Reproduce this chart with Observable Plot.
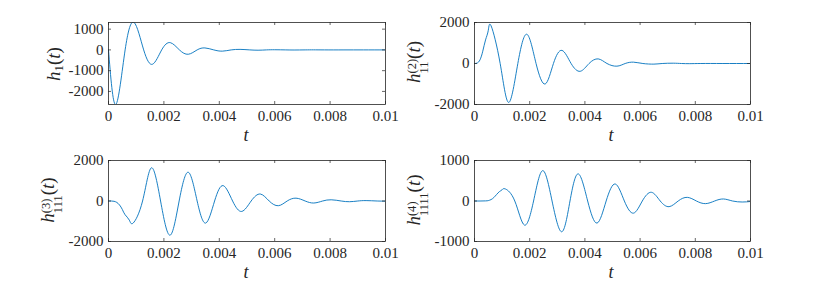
<!DOCTYPE html>
<html><head><meta charset="utf-8">
<script src="https://cdn.jsdelivr.net/npm/d3@7"></script>
<script src="https://cdn.jsdelivr.net/npm/@observablehq/plot@0.6"></script>
<style>
body{margin:0;background:#fff;}
#wrap{position:relative;width:830px;height:291px;overflow:hidden;font-family:"Liberation Serif","Times New Roman",serif;color:#262626;}
.panel{position:absolute;}
.ylab{position:absolute;white-space:nowrap;font-size:19px;line-height:1;transform:translate(-50%,-50%) rotate(-90deg);}
.xlab{position:absolute;font-style:italic;font-size:18px;line-height:1;transform:translate(-50%,-50%);}
.sb{font-size:0.68em;vertical-align:-0.3em;}
.ss{display:inline-block;font-size:0.66em;line-height:0.95;vertical-align:-0.6em;text-align:left;}
.ss span{display:block;}
</style></head><body><div id="wrap"></div>
<script>
// tick values
const xTicks = [0, 0.002, 0.004, 0.006, 0.008, 0.01];
const yTicks1 = [-2000, -1000, 0, 1000];
const yTicks2 = [-2000, 0, 2000];
const yTicks3 = [-2000, 0, 2000];
const yTicks4 = [-1000, 0, 1000];

// h1(t)
const h1T = [0, 0.000264, 0.0006, 0.000926, 0.00127, 0.00159, 0.00192, 0.00223, 0.00256, 0.00288, 0.0032, 0.00348, 0.0038, 0.00411, 0.00443, 0.00475, 0.0051, 0.0054, 0.0057, 0.0060, 0.0064, 0.0067, 0.0071, 0.0074, 0.0078, 0.0085, 0.0092, 0.01];
const h1V = [0, -2630, 0, 1320, 0, -690, 0, 350, 0, -210, 0, 95, 0, -60, 0, 25, 0, -15, 0, 8, 0, -5, 0, 3, 0, 0, 0, 0];

// h11^(2)(t)
const h2T = [0, 0.0001, 0.0002, 0.0003, 0.0004, 0.0005, 0.000604, 0.00093, 0.00124, 0.00157, 0.0019, 0.00223, 0.00256, 0.00286, 0.00317, 0.0035, 0.00383, 0.00415, 0.00448, 0.0048, 0.00516, 0.00546, 0.00576, 0.0061, 0.0065, 0.0068, 0.0072, 0.0075, 0.0078, 0.0082, 0.009, 0.01];
const h2V = [0, 25, 180, 600, 1150, 1620, 1830, 0, -1900, 0, 1425, 0, -1000, 0, 640, 0, -380, 0, 225, 0, -130, 0, 65, 0, -30, 0, 15, 0, -8, 0, 0, 0];

// h111^(3)(t)
const h3T = [0, 0.0001, 0.0002, 0.0003, 0.0004, 0.0005, 0.0006, 0.00075, 0.00089, 0.00123, 0.00155, 0.00188, 0.00222, 0.00255, 0.00288, 0.0032, 0.00351, 0.00383, 0.00414, 0.00448, 0.00481, 0.00515, 0.00548, 0.0058, 0.00613, 0.00645, 0.00677, 0.0071, 0.00741, 0.00773, 0.00804, 0.0084, 0.0087, 0.009, 0.0093, 0.0097, 0.01];
const h3V = [0, 0, -15, -70, -200, -420, -680, -940, -1090, 0, 1640, 0, -1690, 0, 1420, 0, -1090, 0, 760, 0, -515, 0, 345, 0, -233, 0, 140, 0, -100, 0, 60, 0, -35, 0, 20, 0, -8];

// h1111^(4)(t)
const h4T = [0, 0.0002, 0.0004, 0.0005, 0.0006, 0.0007, 0.0008, 0.0009, 0.001, 0.00112, 0.00146, 0.00181, 0.00214, 0.00247, 0.00281, 0.00316, 0.00346, 0.00376, 0.0041, 0.00444, 0.00477, 0.0051, 0.00543, 0.00576, 0.00608, 0.00641, 0.00673, 0.00705, 0.00738, 0.00771, 0.00804, 0.00837, 0.0087, 0.00902, 0.00935, 0.0097, 0.01];
const h4V = [0, 0, 3, 10, 35, 85, 160, 230, 278, 297, 0, -595, 0, 750, 0, -760, 0, 670, 0, -545, 0, 420, 0, -300, 0, 215, 0, -140, 0, 90, 0, -65, 0, 50, 0, -25, -12];

const wrap = document.getElementById("wrap");
const INK = "#262626";
const fmtX = d => d === 0 ? "0" : String(+d.toFixed(3));

function panel(fl, ft, fw, fh, T, V, yDomain, yTicks) {
  const ml = 60, mt = 10, mr = 14, mb = 30;
  const data = T.map((t, i) => ({t, v: V[i]}));
  const chart = Plot.plot({
    width: fw + ml + mr, height: fh + mt + mb,
    marginLeft: ml, marginTop: mt, marginRight: mr, marginBottom: mb,
    style: {fontFamily: '"Liberation Serif","Times New Roman",serif', fontSize: "15px", color: INK, background: "transparent", overflow: "visible"},
    x: {domain: [0, 0.01]},
    y: {domain: yDomain},
    marks: [
      Plot.line(data, {x: "t", y: "v", curve: "natural", stroke: "#0072BD", strokeWidth: 0.9, clip: true}),
      Plot.tickX(xTicks, {x: d => d, insetTop: fh - 3, stroke: INK, strokeWidth: 0.7}),
      Plot.tickX(xTicks, {x: d => d, insetBottom: fh - 3, stroke: INK, strokeWidth: 0.7}),
      Plot.tickY(yTicks, {y: d => d, insetRight: fw - 3, stroke: INK, strokeWidth: 0.7}),
      Plot.tickY(yTicks, {y: d => d, insetLeft: fw - 3, stroke: INK, strokeWidth: 0.7}),
      Plot.frame({stroke: INK, strokeWidth: 0.8}),
      Plot.axisX(xTicks, {anchor: "bottom", tickSize: 0, tickPadding: 6, tickFormat: fmtX, label: null, color: INK, fontSize: 15}),
      Plot.axisY(yTicks, {anchor: "left", tickSize: 0, tickPadding: 5, tickFormat: d => String(d), label: null, color: INK, fontSize: 15})
    ]
  });
  chart.classList.add("panel");
  chart.style.left = (fl - ml) + "px";
  chart.style.top = (ft - mt) + "px";
  wrap.appendChild(chart);
}

panel(107.5, 21.5, 277, 82, h1T, h1V, [-2630, 1320], yTicks1);
panel(473.5, 21.5, 276, 82, h2T, h2V, [-2000, 2000], yTicks2);
panel(107.5, 159.5, 277, 81, h3T, h3V, [-2000, 2000], yTicks3);
panel(473.5, 159.5, 276, 81, h4T, h4V, [-1000, 1000], yTicks4);

function addLabel(cls, html, cx, cy) {
  const d = document.createElement("div");
  d.className = cls;
  d.innerHTML = html;
  d.style.left = cx + "px";
  d.style.top = cy + "px";
  wrap.appendChild(d);
}
addLabel("xlab", "t", 246, 135);
addLabel("xlab", "t", 611, 135);
addLabel("xlab", "t", 246, 272);
addLabel("xlab", "t", 611, 272);
addLabel("ylab", '<i>h</i><span class="sb">1</span>(<i>t</i>)', 55, 64);
addLabel("ylab", '<i>h</i><span class="ss"><span>(2)</span><span>11</span></span>(<i>t</i>)', 417, 62);
addLabel("ylab", '<i>h</i><span class="ss"><span>(3)</span><span>111</span></span>(<i>t</i>)', 51, 200);
addLabel("ylab", '<i>h</i><span class="ss"><span>(4)</span><span>1111</span></span>(<i>t</i>)', 417, 200);
</script>
</body></html>
